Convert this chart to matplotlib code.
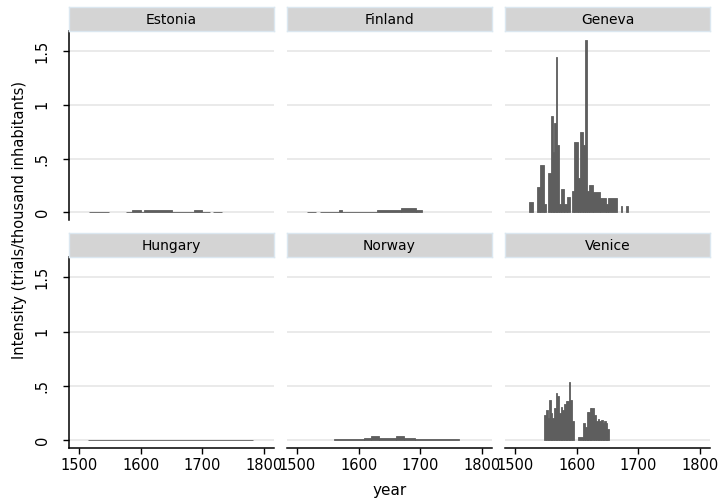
import numpy as np
import matplotlib
matplotlib.use("Agg")
import matplotlib.pyplot as plt

# country panels, in display order
countries = ["Estonia", "Finland", "Geneva", "Hungary", "Norway", "Venice"]

# period edges (years) and intensity (trials per thousand inhabitants) per period
estonia_edges = [1516, 1548, 1576, 1586, 1601, 1606, 1650, 1687, 1700, 1712, 1718, 1731]
estonia_vals = [0.008, 0, 0.008, 0.025, 0.008, 0.025, 0.008, 0.025, 0.008, 0, 0.008]

finland_edges = [1517, 1531, 1538, 1569, 1573, 1629, 1668, 1693, 1702]
finland_vals = [0.008, 0, 0.008, 0.02, 0.008, 0.02, 0.04, 0.02]

geneva_edges = [1523, 1529, 1536, 1540, 1547, 1550, 1554, 1559, 1562, 1564, 1566,
                1568, 1572, 1575, 1580, 1584, 1589, 1593, 1596, 1602, 1605, 1611,
                1614, 1617, 1620, 1626, 1638, 1647, 1651, 1666, 1672, 1674, 1680, 1683]
geneva_vals = [0.098, 0, 0.233, 0.44, 0.08, 0, 0.37, 0.90, 0.56, 0.83,
               1.44, 0.63, 0.08, 0.215, 0.08, 0.147, 0, 0.20, 0.65, 0.32,
               0.75, 0.63, 1.60, 0.20, 0.255, 0.19, 0.13, 0.08, 0.13, 0,
               0.058, 0, 0.058]

hungary_edges = [1515, 1782]
hungary_vals = [0.006]

norway_edges = [1560, 1609, 1620, 1633, 1660, 1673, 1692, 1763]
norway_vals = [0.01, 0.02, 0.04, 0.02, 0.04, 0.02, 0.01]

venice_edges = [1547, 1550, 1553, 1556, 1558, 1560, 1563, 1566, 1569, 1571,
                1574, 1577, 1579, 1582, 1585, 1587, 1589, 1592, 1595, 1602,
                1611, 1613, 1616, 1619, 1622, 1624, 1628, 1631, 1634, 1636,
                1639, 1642, 1644, 1647, 1650, 1652]
venice_vals = [0.23, 0.28, 0.205, 0.37, 0.25, 0.205, 0.30, 0.435, 0.405, 0.25,
               0.305, 0.28, 0.33, 0.36, 0.36, 0.54, 0.37, 0.175, 0, 0.03,
               0.16, 0.12, 0.26, 0.26, 0.30, 0.30, 0.23, 0.18, 0.20, 0.175,
               0.19, 0.16, 0.175, 0.16, 0.107]

series = {
    "Estonia": (estonia_edges, estonia_vals),
    "Finland": (finland_edges, finland_vals),
    "Geneva": (geneva_edges, geneva_vals),
    "Hungary": (hungary_edges, hungary_vals),
    "Norway": (norway_edges, norway_vals),
    "Venice": (venice_edges, venice_vals),
}

x_ticks = [1500, 1600, 1700, 1800]
y_ticks = [0, 0.5, 1, 1.5]
y_ticklabels = ["0", ".5", "1", "1.5"]

plt.rcParams["font.family"] = ["DejaVu Sans"]

W, H = 722, 504
fig = plt.figure(figsize=(W / 100, H / 100), dpi=100)

bar_color = "#5e5e5e"
grid_color = "#e8e8e8"

col_left = [69, 287, 505]
panel_w = 205
# (axes top, axes bottom) in pixels, strip sits above
rows = [(31, 220), (257, 448)]
strip_h = 24

for i, name in enumerate(countries):
    r, c = divmod(i, 3)
    top, bot = rows[r]
    x0 = col_left[c]
    ax = fig.add_axes([x0 / W, 1 - bot / H, panel_w / W, (bot - top) / H])

    edges, vals = series[name]
    edges = np.array(edges, dtype=float)
    vals = np.array(vals, dtype=float)
    keep = vals > 0
    ax.bar(edges[:-1][keep], vals[keep], width=np.diff(edges)[keep], align="edge",
           color=bar_color, edgecolor=bar_color, linewidth=0.6, zorder=3)

    ax.set_xlim(1484, 1816)
    ax.set_ylim(-0.07, 1.685)
    for yv in y_ticks:
        ax.axhline(yv, color=grid_color, linewidth=1.3, zorder=1)

    for s in ["top", "right"]:
        ax.spines[s].set_visible(False)
    ax.spines["left"].set_visible(c == 0)
    ax.spines["bottom"].set_visible(r == 1)
    ax.spines["left"].set_linewidth(1.1)
    ax.spines["bottom"].set_linewidth(1.1)

    ax.set_yticks(y_ticks)
    if c == 0:
        ax.set_yticklabels(y_ticklabels, rotation=90, va="center", fontsize=10.5)
        ax.tick_params(axis="y", length=4, width=1, pad=10)
    else:
        ax.tick_params(axis="y", left=False, labelleft=False)

    ax.set_xticks(x_ticks)
    if r == 1:
        ax.set_xticklabels([str(t) for t in x_ticks], fontsize=10.5)
        ax.tick_params(axis="x", length=4, width=1, pad=3)
    else:
        ax.tick_params(axis="x", bottom=False, labelbottom=False)

    # strip title
    sax = fig.add_axes([x0 / W, 1 - top / H, panel_w / W, strip_h / H])
    sax.set_facecolor("#d4d4d4")
    sax.set_xticks([])
    sax.set_yticks([])
    for sp in sax.spines.values():
        sp.set_color("#dbe7f0")
        sp.set_linewidth(1)
    sax.text(0.5, 0.45, name, ha="center", va="center", fontsize=10,
             transform=sax.transAxes)

fig.text(20 / W, 1 - 220 / H, "Intensity (trials/thousand inhabitants)",
         rotation=90, ha="center", va="center", fontsize=10.5)
fig.text(390 / W, 1 - 490 / H, "year", ha="center", va="center", fontsize=11)

fig.savefig("out.png", dpi=100, facecolor="white")
